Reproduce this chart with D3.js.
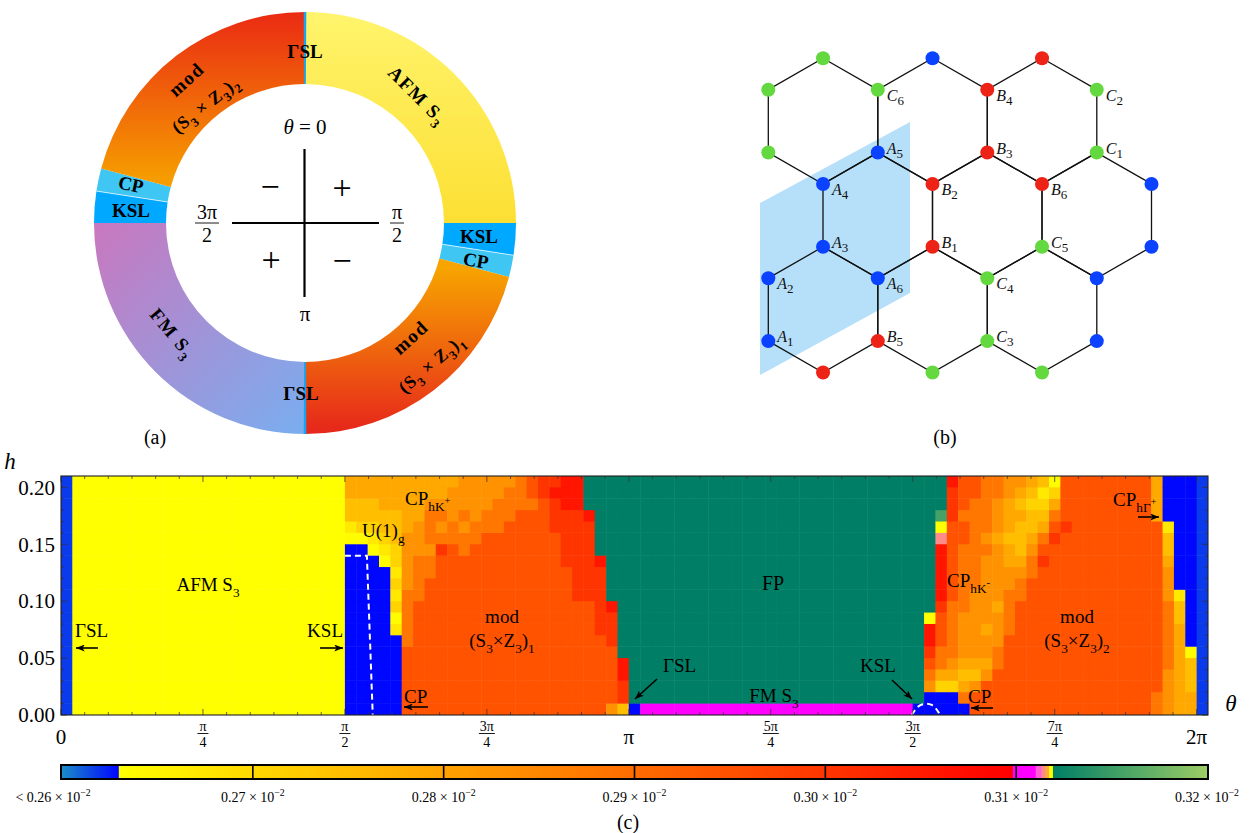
<!DOCTYPE html>
<html><head><meta charset="utf-8">
<script src="https://cdn.jsdelivr.net/npm/d3@7/dist/d3.min.js"></script>
<style>
html,body{margin:0;padding:0;background:#fff;}
svg{display:block;font-family:"Liberation Serif","Times New Roman",serif;}
</style></head>
<body>
<svg id="chart" width="1259" height="833"></svg>
<script>
// ===================== DATA =====================
// (a) ring: phases and θ ranges in degrees (clockwise from θ=0 at top)
const ringPhase = ["AFM", "KSL", "CP", "mod1", "FM", "KSL", "CP", "mod2", "GSL", "GSL"];
const ringFrom  = [0, 90, 98.8, 104.8, 180, 270, 278.7, 285, -0.35, 179.65];
const ringTo    = [90, 98.8, 104.8, 180, 270, 278.7, 285, 360, 0.35, 180.35];

// (b) honeycomb: hexagon centres and sites in lattice units (k: half hex width, v: bond length)
const hexK = [1, 3, 5, 2, 4, 6, 1, 3, 5];
const hexV = [1, 1, 1, 2.5, 2.5, 2.5, 4, 4, 4];
const siteK = [1,3,5, 0,2,4,6, 0,2,4,6, 1,3,5,7, 1,3,5,7, 0,2,4,6, 0,2,4,6, 1,3,5];
const siteV = [0,0,0, .5,.5,.5,.5, 1.5,1.5,1.5,1.5, 2,2,2,2, 3,3,3,3, 3.5,3.5,3.5,3.5, 4.5,4.5,4.5,4.5, 5,5,5];
const siteSub = ["C","A","B", "C","C","B","C", "C","A","B","C", "A","B","B","A", "A","B","C","A", "A","A","C","A", "A","B","C","A", "B","C","C"];
const siteLabel = ["","","", "","C6","B4","C2", "","A5","B3","C1", "A4","B2","B6","", "A3","B1","C5","", "A2","A6","C4","", "A1","B5","C3","", "","",""];

// (c) heat map: θ grid step π/50 (101 columns from θ=0), h grid step 0.01 (21 rows from h=0)
// each column string lists the cells from h=0 (first char) up to h=0.20; codes -> values below
const codeValue = {b:0.2618, B:0.26292, Y:0.26305, "0":0.2635, "1":0.2670, "2":0.2710, "3":0.2750,
  "4":0.2790, "5":0.2830, "6":0.2880, "7":0.2945, "8":0.3000, "9":0.3060,
  M:0.3105, p:0.3114, y:0.3118, G:0.3120, g:0.3155};
const columnCodes = [
"bbbbbbbbbbbbbbbbbbbbb",
"YYYYYYYYYYYYYYYYYYYYY","YYYYYYYYYYYYYYYYYYYYY","YYYYYYYYYYYYYYYYYYYYY","YYYYYYYYYYYYYYYYYYYYY",
"YYYYYYYYYYYYYYYYYYYYY","YYYYYYYYYYYYYYYYYYYYY","YYYYYYYYYYYYYYYYYYYYY","YYYYYYYYYYYYYYYYYYYYY",
"YYYYYYYYYYYYYYYYYYYYY","YYYYYYYYYYYYYYYYYYYYY","YYYYYYYYYYYYYYYYYYYYY","YYYYYYYYYYYYYYYYYYYYY",
"YYYYYYYYYYYYYYYYYYYYY","YYYYYYYYYYYYYYYYYYYYY","YYYYYYYYYYYYYYYYYYYYY","YYYYYYYYYYYYYYYYYYYYY",
"YYYYYYYYYYYYYYYYYYYYY","YYYYYYYYYYYYYYYYYYYYY","YYYYYYYYYYYYYYYYYYYYY","YYYYYYYYYYYYYYYYYYYYY",
"YYYYYYYYYYYYYYYYYYYYY","YYYYYYYYYYYYYYYYYYYYY","YYYYYYYYYYYYYYYYYYYYY","YYYYYYYYYYYYYYYYYYYYY",
"BBBBBBBBBBBBBBB013344","BBBBBBBBBBBBBBB023344","BBBBBBBBBBBBBB0123344","BBBBBBBBBBBBB01233444",
"BBBBBBB10212122333444","777777666665555544444","777777777766665554444","777777777777665666544",
"777777777777778656544","777777777777777665554","777777777777776656555","777777777777777665555",
"777777777777777766555","777777777777777766655","777777777777777776665","777777777777777777666",
"777777777777777777677","777777777777777777788","777777777777777788898","777777777777788888999",
"777777777788888888999","777777777788888889GGG","77777778888889GGGGGGG","5777778889GGGGGGGGGGG",
"38899GGGGGGGGGGGGGGGG","BGGGGGGGGGGGGGGGGGGGG",
"MGGGGGGGGGGGGGGGGGGGG","MGGGGGGGGGGGGGGGGGGGG","MGGGGGGGGGGGGGGGGGGGG","MGGGGGGGGGGGGGGGGGGGG",
"MGGGGGGGGGGGGGGGGGGGG","MGGGGGGGGGGGGGGGGGGGG","MGGGGGGGGGGGGGGGGGGGG","MGGGGGGGGGGGGGGGGGGGG",
"MGGGGGGGGGGGGGGGGGGGG","MGGGGGGGGGGGGGGGGGGGG","MGGGGGGGGGGGGGGGGGGGG","MGGGGGGGGGGGGGGGGGGGG",
"MGGGGGGGGGGGGGGGGGGGG","MGGGGGGGGGGGGGGGGGGGG","MGGGGGGGGGGGGGGGGGGGG","MGGGGGGGGGGGGGGGGGGGG",
"MGGGGGGGGGGGGGGGGGGGG","MGGGGGGGGGGGGGGGGGGGG","MGGGGGGGGGGGGGGGGGGGG","MGGGGGGGGGGGGGGGGGGGG",
"MGGGGGGGGGGGGGGGGGGGG","MGGGGGGGGGGGGGGGGGGGG","MGGGGGGGGGGGGGGGGGGGG","MGGGGGGGGGGGGGGGGGGGG",
"BGGGGGGGGGGGGGGGGGGGG","BB567899yGGGGGGGGGGGG","BB2466777899999pygGGG","BB2456666677777778889",
"B64345555666666776777","775345555556666666677","777545545555556566666","777766555455555455566",
"777777766665544344455","777777777766543334345","777777777777665433234","777777777777787643213",
"777777777777777876420","777777777777777787777","777777777777777777777","777777777777777777777",
"777777777777777777777","777777777777777777777","777777777777777777777","777777777777777777777",
"777777777777777777777","667777777777777774444","55556666665554331BBBB","44444444331BBBBBBBBBB",
"443330BBBBBBBBBBBBBBB","bbbbbbbbbbbbbbbbbbbbb"
];
// white dashed KSL boundaries, points as [θ/π, h]
const kslLeftTheta  = [0.5, 0.5387, 0.5490];
const kslLeftH      = [0.14, 0.14, 0.0];
const kslRightTheta = [1.4985, 1.5105, 1.5355, 1.5470];
const kslRightH     = [0.0, 0.0100, 0.0105, 0.001];

// axis ticks
const hTicks = [0, 0.05, 0.10, 0.15, 0.20];
const thetaTickPi = [0, 0.25, 0.5, 0.75, 1, 1.25, 1.5, 1.75, 2];
const thetaTickNum = ["0", "π", "π", "3π", "π", "5π", "3π", "7π", "2π"];
const thetaTickDen = ["", "4", "2", "4", "", "4", "2", "4", ""];

// colour bar
const cbTicks = [0.26, 0.27, 0.28, 0.29, 0.30, 0.31, 0.32];
const cbTickText = ["< 0.26", "0.27", "0.28", "0.29", "0.30", "0.31", "0.32"];

// ===================== STYLE =====================
const cmStops  = [0.2600, 0.26295, 0.26300, 0.3098, 0.30985, 0.3110, 0.31105, 0.3113, 0.31135, 0.3115, 0.31155, 0.3117, 0.31175, 0.3119, 0.31195, 0.3200];
const cmColors = ["#1b8bc9", "#0006ff", "#ffff00", "#ff0000", "#ff00ff", "#ff00ff", "#ff5fd2", "#ff5fd2", "#ff8a8a", "#ff8a8a", "#ffab3c", "#ffab3c", "#ffff00", "#ffff00", "#007f66", "#9ccc66"];
const cmap = d3.scaleLinear().domain(cmStops).range(cmColors).interpolate(d3.interpolateRgb).clamp(true);
const subColor = {A: "#0a42ff", B: "#ec2316", C: "#63d83f"};

const svg = d3.select("#chart");
const defs = svg.append("defs");

function rich(t, parts, size) {
  let cur = 0;
  parts.forEach(p => {
    const target = (p[1] || 0) * size;
    t.append("tspan").attr("dy", (target - cur).toFixed(2)).attr("font-size", (size * (p[2] || 1)).toFixed(1)).text(p[0]);
    cur = target;
  });
}
function label(parent, x, y, parts, size, o = {}) {
  const t = parent.append("text").attr("x", x).attr("y", y).attr("font-size", size)
    .attr("text-anchor", o.anchor || "start").attr("fill", o.fill || "#000");
  if (o.weight) t.attr("font-weight", o.weight);
  if (o.italic) t.attr("font-style", "italic");
  if (o.ls) t.attr("letter-spacing", o.ls);
  if (o.rotate != null) t.attr("transform", `rotate(${o.rotate},${o.cx ?? x},${o.cy ?? y})`);
  rich(t, parts, size);
  return t;
}
function fraction(parent, x, yLine, num, den, size, w) {
  parent.append("text").attr("x", x).attr("y", yLine - 0.2 * size).attr("text-anchor", "middle").attr("font-size", size).text(num);
  parent.append("line").attr("x1", x - w / 2).attr("x2", x + w / 2).attr("y1", yLine).attr("y2", yLine).attr("stroke", "#000").attr("stroke-width", 0.9);
  parent.append("text").attr("x", x).attr("y", yLine + size * 0.95).attr("text-anchor", "middle").attr("font-size", size).text(den);
}
defs.append("marker").attr("id", "ah").attr("viewBox", "0 0 10 8").attr("refX", 10).attr("refY", 4)
  .attr("markerWidth", 9).attr("markerHeight", 7).attr("markerUnits", "userSpaceOnUse").attr("orient", "auto")
  .append("path").attr("d", "M0,0 L10,4 L0,8 L2.5,4 z").attr("fill", "#000");
function arrow(parent, x1, y1, x2, y2) {
  parent.append("line").attr("x1", x1).attr("y1", y1).attr("x2", x2).attr("y2", y2)
    .attr("stroke", "#000").attr("stroke-width", 1.6).attr("marker-end", "url(#ah)");
}
function linGrad(id, x1, y1, x2, y2, c1, c2) {
  const g = defs.append("linearGradient").attr("id", id).attr("gradientUnits", "userSpaceOnUse")
    .attr("x1", x1).attr("y1", y1).attr("x2", x2).attr("y2", y2);
  g.append("stop").attr("offset", 0).attr("stop-color", c1);
  g.append("stop").attr("offset", 1).attr("stop-color", c2);
}

// ===================== (a) RING =====================
const R0 = 139, R1 = 211;
const ring = svg.append("g").attr("transform", "translate(305,223)");
linGrad("gAFM", 0, -211, 0, 0, "#fff46c", "#fcdf33");
linGrad("gMod1", 0, 45, 0, 211, "#f7a400", "#e6251b");
linGrad("gMod2", 0, -45, 0, -211, "#f69c00", "#ea2a13");
linGrad("gFM", -211, -10, 0, 211, "#cb76bd", "#79aef0");
const ringFill = {AFM: "url(#gAFM)", KSL: "#00a8ff", CP: "#3fc6f3", mod1: "url(#gMod1)", mod2: "url(#gMod2)", FM: "url(#gFM)", GSL: "#12a6f4"};
const arc = d3.arc().innerRadius(R0).outerRadius(R1);
ring.selectAll("path.seg").data(ringPhase.map((p, i) => ({p, a0: ringFrom[i], a1: ringTo[i]}))).join("path")
  .attr("class", "seg")
  .attr("d", d => arc({startAngle: d.a0 * Math.PI / 180, endAngle: d.a1 * Math.PI / 180}))
  .attr("fill", d => ringFill[d.p]);
[98.8, 278.7].forEach(a => {
  const r = a * Math.PI / 180;
  ring.append("line").attr("x1", R0 * Math.sin(r)).attr("y1", -R0 * Math.cos(r)).attr("x2", R1 * Math.sin(r)).attr("y2", -R1 * Math.cos(r))
    .attr("stroke", "#e8f8ff").attr("stroke-width", 0.8);
});

const rl = svg.append("g").attr("font-weight", "bold");
const RB = 19;
label(rl, 305, 58, [["ΓSL"]], RB, {anchor: "middle", weight: "bold"});
label(rl, 301, 400, [["ΓSL"]], RB, {anchor: "middle", weight: "bold"});
label(rl, 479, 243, [["KSL"]], RB, {anchor: "middle", weight: "bold"});
label(rl, 131, 217, [["KSL"]], RB, {anchor: "middle", weight: "bold"});
label(rl, 476, 267, [["CP"]], RB, {anchor: "middle", weight: "bold", rotate: 10, cx: 476, cy: 260});
label(rl, 131, 191, [["CP"]], RB, {anchor: "middle", weight: "bold", rotate: 12, cx: 131, cy: 184});
label(rl, 418, 102, [["AFM  S", 0, 1], ["3", 0.3, 0.7]], RB, {anchor: "middle", weight: "bold", ls: 1.5, rotate: 45, cx: 418, cy: 95});
label(rl, 173, 340, [["FM  S", 0, 1], ["3", 0.3, 0.7]], RB, {anchor: "middle", weight: "bold", ls: 1.5, rotate: 50, cx: 173, cy: 333});
label(rl, 410, 344, [["mod"]], RB, {anchor: "middle", weight: "bold", ls: 1.5, rotate: -42, cx: 410, cy: 337});
label(rl, 431, 370, [["(S", 0, 1], ["3", 0.3, 0.7], [" × Z", 0, 1], ["3", 0.3, 0.7], [")", 0, 1], ["1", 0.3, 0.7]], RB - 1, {anchor: "middle", weight: "bold", ls: 0.8, rotate: -40, cx: 431, cy: 363});
label(rl, 186, 86, [["mod"]], RB, {anchor: "middle", weight: "bold", ls: 1.5, rotate: -42, cx: 186, cy: 79});
label(rl, 205, 111, [["(S", 0, 1], ["3", 0.3, 0.7], [" × Z", 0, 1], ["3", 0.3, 0.7], [")", 0, 1], ["2", 0.3, 0.7]], RB - 1, {anchor: "middle", weight: "bold", ls: 0.8, rotate: -38, cx: 205, cy: 104});

// inner decorations
const inner = svg.append("g");
const th = inner.append("text").attr("x", 305).attr("y", 134).attr("text-anchor", "middle").attr("font-size", 21);
th.append("tspan").attr("font-style", "italic").text("θ");
th.append("tspan").text(" = 0");
inner.append("line").attr("x1", 304.5).attr("x2", 304.5).attr("y1", 149).attr("y2", 297).attr("stroke", "#000").attr("stroke-width", 2.2);
inner.append("line").attr("x1", 232).attr("x2", 379).attr("y1", 223).attr("y2", 223).attr("stroke", "#000").attr("stroke-width", 2.2);
[["−", 270, 187], ["+", 342, 188], ["+", 271, 260], ["−", 342, 261]].forEach(s => {
  inner.append("text").attr("x", s[1]).attr("y", s[2] + 11).attr("text-anchor", "middle").attr("font-size", 34).text(s[0]);
});
fraction(inner, 397, 223, "π", "2", 20, 14);
fraction(inner, 207, 223, "3π", "2", 20, 24);
inner.append("text").attr("x", 305).attr("y", 321).attr("text-anchor", "middle").attr("font-size", 21).text("π");
svg.append("text").attr("x", 155).attr("y", 444).attr("text-anchor", "middle").attr("font-size", 20).text("(a)");

// ===================== (b) HONEYCOMB =====================
const hb = svg.append("g");
const kx = d3.scaleLinear().domain([0, 7]).range([768.3, 1151.5]);
const vy = d3.scaleLinear().domain([0, 5]).range([58.3, 372.5]);
hb.append("polygon").attr("points", "760,203 910,122 910,293 760,375").attr("fill", "#b6e0fa");
const hexOff = [[0, -1], [1, -0.5], [1, 0.5], [0, 1], [-1, 0.5], [-1, -0.5]];
hb.selectAll("path.hex").data(hexK.map((k, i) => ({k, v: hexV[i]}))).join("path").attr("class", "hex")
  .attr("d", d => "M" + hexOff.map(o => kx(d.k + o[0]).toFixed(1) + "," + vy(d.v + o[1]).toFixed(1)).join("L") + "Z")
  .attr("fill", "none").attr("stroke", "#111").attr("stroke-width", 1.3);
const sites = siteK.map((k, i) => ({k, v: siteV[i], s: siteSub[i], l: siteLabel[i]}));
hb.selectAll("circle.site").data(sites).join("circle").attr("class", "site")
  .attr("cx", d => kx(d.k)).attr("cy", d => vy(d.v)).attr("r", 7).attr("fill", d => subColor[d.s]);
sites.filter(d => d.l).forEach(d => {
  const up = (d.v === 1.5 || d.v === 3 || d.v === 4.5);
  const y = vy(d.v) + (up ? 1 : 11);
  const t = hb.append("text").attr("x", kx(d.k) + 9).attr("y", y).attr("font-size", 16).attr("fill", "#111");
  t.append("tspan").attr("font-style", "italic").text(d.l[0]);
  t.append("tspan").attr("dy", 4).attr("font-size", 13).text(d.l.slice(1));
});
svg.append("text").attr("x", 945).attr("y", 444).attr("text-anchor", "middle").attr("font-size", 20).text("(b)");

// ===================== (c) HEAT MAP =====================
const thetaStep = Math.PI / 50, hStep = 0.01;
const xS = d3.scaleLinear().domain([0, 2 * Math.PI + thetaStep]).range([61, 1208]);
const yS = d3.scaleLinear().domain([0, 0.21]).range([715, 476]);
defs.append("clipPath").attr("id", "hmclip").append("rect")
  .attr("x", 61).attr("y", 476).attr("width", 1147).attr("height", 239);
const hm = svg.append("g");
const cells = [];
columnCodes.forEach((s, i) => { for (let j = 0; j < s.length; j++) cells.push({i, j, v: codeValue[s[j]]}); });
hm.append("g").attr("clip-path", "url(#hmclip)").selectAll("rect").data(cells).join("rect")
  .attr("x", d => xS(d.i * thetaStep)).attr("width", d => xS((d.i + 1) * thetaStep) - xS(d.i * thetaStep) + 0.5)
  .attr("y", d => yS((d.j + 1) * hStep) - 0.5).attr("height", d => yS(d.j * hStep) - yS((d.j + 1) * hStep) + 0.5)
  .attr("fill", d => cmap(d.v));

// dashed KSL boundaries
const dline = d3.line().x(d => xS(d[0] * Math.PI)).y(d => yS(d[1]));
hm.append("path").attr("d", dline(kslLeftTheta.map((t, i) => [t, kslLeftH[i]])))
  .attr("fill", "none").attr("stroke", "#fff").attr("stroke-width", 2).attr("stroke-dasharray", "6,4");
hm.append("path").attr("d", d3.line().x(d => xS(d[0] * Math.PI)).y(d => yS(d[1])).curve(d3.curveBasis)(kslRightTheta.map((t, i) => [t, kslRightH[i]])))
  .attr("fill", "none").attr("stroke", "#fff").attr("stroke-width", 2).attr("stroke-dasharray", "6,4");

// ticks (inside)
const tk = hm.append("g").attr("stroke", "#333").attr("stroke-opacity", 0.75).attr("stroke-width", 1);
d3.range(0, 49).forEach(n => {
  const x = xS(n * Math.PI / 24), len = n % 6 === 0 ? 6 : 3;
  tk.append("line").attr("x1", x).attr("x2", x).attr("y1", 715).attr("y2", 715 - len);
  tk.append("line").attr("x1", x).attr("x2", x).attr("y1", 476).attr("y2", 476 + len);
});
d3.range(0, 21).forEach(n => {
  const y = yS(n * 0.01), len = n % 5 === 0 ? 6 : 3;
  tk.append("line").attr("x1", 61).attr("x2", 61 + len).attr("y1", y).attr("y2", y);
  tk.append("line").attr("x1", 1208).attr("x2", 1208 - len).attr("y1", y).attr("y2", y);
});
hm.append("rect").attr("x", 61).attr("y", 476).attr("width", 1147).attr("height", 239)
  .attr("fill", "none").attr("stroke", "#222").attr("stroke-width", 1.1);

// axis labels via scales
const yAx = hm.append("g").attr("transform", "translate(61,0)")
  .call(d3.axisLeft(yS).tickValues(hTicks).tickFormat(d3.format(".2f")).tickSize(0).tickPadding(6));
yAx.select(".domain").remove();
yAx.selectAll("text").attr("font-size", 21).attr("font-family", '"Liberation Serif",serif').attr("fill", "#000");
thetaTickPi.forEach((t, i) => {
  const x = xS(t * Math.PI);
  if (thetaTickDen[i]) fraction(hm, x, 733.5, thetaTickNum[i], thetaTickDen[i], 14, thetaTickNum[i].length > 1 ? 16 : 11);
  else hm.append("text").attr("x", x).attr("y", 744).attr("text-anchor", "middle").attr("font-size", 21).text(thetaTickNum[i]);
});
svg.append("text").attr("x", 10).attr("y", 469).attr("text-anchor", "middle").attr("font-size", 23).attr("font-style", "italic").text("h");
svg.append("text").attr("x", 1231).attr("y", 711).attr("text-anchor", "middle").attr("font-size", 23).attr("font-style", "italic").text("θ");

// phase annotations
const an = svg.append("g");
const FS = 19;
label(an, 208, 591, [["AFM S"], ["3", 0.3, 0.7]], FS, {anchor: "middle"});
label(an, 75, 637, [["ΓSL"]], FS);
arrow(an, 98, 648, 76, 648);
label(an, 343, 637, [["KSL"]], FS, {anchor: "end"});
arrow(an, 320, 648, 343, 648);
label(an, 362, 537, [["U(1)"], ["g", 0.3, 0.7]], FS);
label(an, 405, 505, [["CP"], ["hK", 0.3, 0.7], ["+", -0.05, 0.55]], FS);
label(an, 502, 623, [["mod"]], FS, {anchor: "middle"});
label(an, 502, 647, [["(S"], ["3", 0.3, 0.7], ["×Z", 0, 1], ["3", 0.3, 0.7], [")", 0, 1], ["1", 0.3, 0.7]], FS, {anchor: "middle"});
label(an, 404, 703, [["CP"]], FS);
arrow(an, 428, 707, 404, 707);
label(an, 773, 590, [["FP"]], 20, {anchor: "middle"});
label(an, 663, 672, [["ΓSL"]], FS);
arrow(an, 657, 679, 635, 699);
label(an, 774, 702, [["FM S"], ["3", 0.3, 0.7]], FS, {anchor: "middle"});
label(an, 860, 672, [["KSL"]], FS);
arrow(an, 892, 680, 912, 699);
label(an, 947, 587, [["CP"], ["hK", 0.3, 0.7], ["-", -0.05, 0.55]], FS);
label(an, 1077, 623, [["mod"]], FS, {anchor: "middle"});
label(an, 1077, 647, [["(S"], ["3", 0.3, 0.7], ["×Z", 0, 1], ["3", 0.3, 0.7], [")", 0, 1], ["2", 0.3, 0.7]], FS, {anchor: "middle"});
label(an, 1113, 506, [["CP"], ["hΓ", 0.3, 0.7], ["+", -0.05, 0.55]], FS);
arrow(an, 1138, 517, 1159, 517);
label(an, 968, 703, [["CP"]], FS);
arrow(an, 993, 708, 971, 708);

// ===================== COLOUR BAR =====================
const cb = svg.append("g");
const cbX = d3.scaleLinear().domain([0.26, 0.32]).range([62, 1207]);
const cbSteps = d3.range(62, 1207, 1);
cb.selectAll("rect.cbs").data(cbSteps).join("rect").attr("class", "cbs")
  .attr("x", d => d).attr("y", 766).attr("width", 1.2).attr("height", 12)
  .attr("fill", d => cmap(cbX.invert(d + 0.5)));
cbTicks.slice(1, -1).forEach(v => {
  cb.append("line").attr("x1", cbX(v)).attr("x2", cbX(v)).attr("y1", 766).attr("y2", 778).attr("stroke", "#000").attr("stroke-width", 1.6);
});
cb.append("rect").attr("x", 61).attr("y", 765).attr("width", 1147).attr("height", 14)
  .attr("fill", "none").attr("stroke", "#000").attr("stroke-width", 2);
cbTicks.forEach((v, i) => {
  const x = i === 0 ? 53 : cbX(v);
  label(cb, x, 802, [[cbTickText[i] + " × 10"], ["−2", -0.4, 0.7]], 14, {anchor: "middle"});
});
svg.append("text").attr("x", 628).attr("y", 829).attr("text-anchor", "middle").attr("font-size", 20).text("(c)");
</script>
</body></html>
